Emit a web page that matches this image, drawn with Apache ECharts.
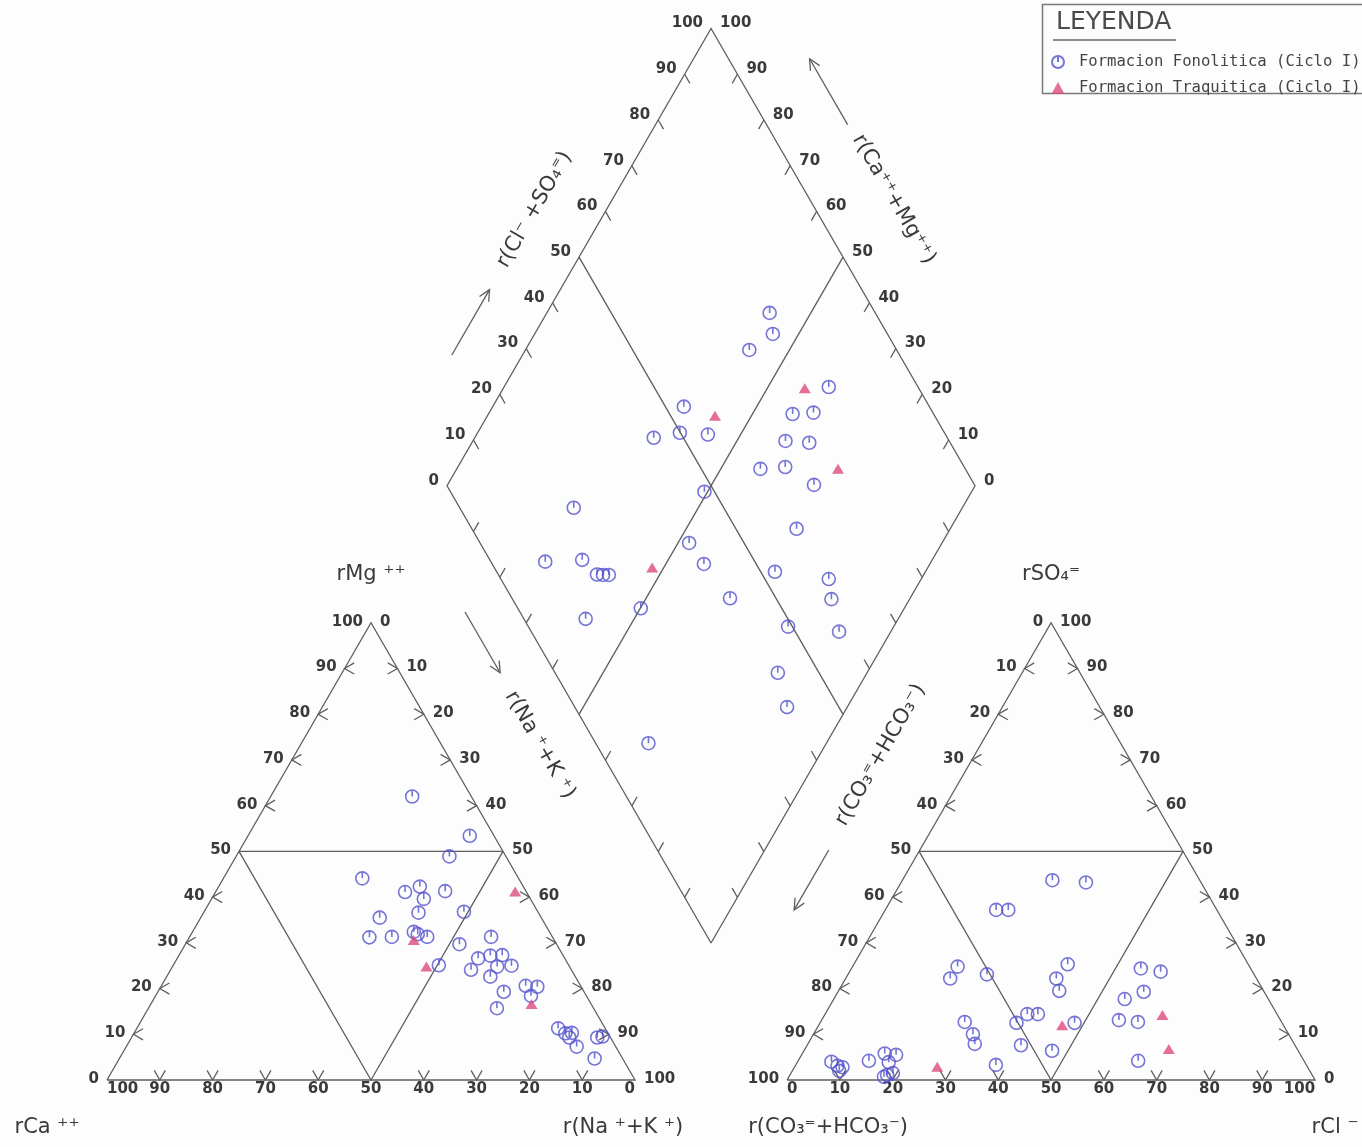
<!DOCTYPE html>
<html>
<head>
<meta charset="utf-8">
<title>Diagrama de Piper</title>
<script src="https://cdn.jsdelivr.net/npm/echarts@6/dist/echarts.min.js"></script>
<style>
  html, body { margin: 0; padding: 0; background: #fdfdfd; }
  #chart { width: 1362px; height: 1147px; }
</style>
</head>
<body>
<div id="chart"></div>
<script>
// ---- Scale values (percent of meq/l) ----
const scaleValues = [0, 10, 20, 30, 40, 50, 60, 70, 80, 90, 100];

// ---- Cation triangle: [rMg %, r(Na+K) %]  (rCa = 100 - both) ----
const cationFonolitica = [
  [62.0, 26.8], [53.4, 42.0], [48.9, 40.4], [44.1, 26.3], [41.1, 35.9], [42.3, 38.1],
  [39.6, 40.2], [41.3, 43.4], [36.8, 49.2], [36.6, 40.7], [35.5, 33.9], [31.2, 34.1],
  [31.3, 38.3], [32.4, 41.9], [31.9, 42.9], [31.3, 45.0], [29.7, 51.9], [25.1, 50.3],
  [31.3, 57.1], [26.6, 57.0], [27.2, 59.0], [27.3, 61.2], [24.1, 56.9], [24.8, 61.5],
  [25.0, 64.1], [22.6, 61.3], [19.3, 65.5], [15.7, 66.0], [20.6, 69.0], [20.4, 71.3],
  [18.4, 71.1], [11.3, 79.8], [10.2, 81.7], [10.3, 82.9], [9.3, 82.9], [7.3, 85.3],
  [9.3, 88.2], [9.5, 89.1], [4.7, 90.0]
];
const cationTraquitica = [[30.6, 42.8], [24.8, 48.1], [16.6, 72.1], [41.2, 56.7]];

// ---- Anion triangle: [rSO4 %, rCl %]  (r(CO3+HCO3) = 100 - both) ----
const anionFonolitica = [
  [43.7, 28.4], [43.2, 35.0], [37.2, 21.0], [37.2, 23.3], [24.8, 19.9], [22.2, 19.8],
  [23.1, 26.3], [25.3, 40.5], [22.2, 39.9], [19.5, 41.8], [24.4, 54.8], [23.7, 58.9],
  [17.7, 55.1], [19.3, 57.9], [13.1, 56.3], [12.7, 60.1], [4.2, 64.4], [14.4, 38.3],
  [14.4, 40.3], [12.5, 37.2], [12.5, 48.2], [7.6, 40.5], [6.4, 47.0], [12.7, 27.3],
  [10.0, 30.2], [7.9, 31.6], [3.3, 37.9], [4.0, 6.4], [3.1, 8.0], [2.8, 9.1],
  [2.0, 8.9], [4.2, 13.4], [5.8, 15.6], [5.5, 17.9], [3.9, 17.3], [1.1, 18.4],
  [1.5, 19.3], [0.7, 18.0]
];
const anionTraquitica = [[14.2, 64.0], [6.8, 68.9], [12.0, 46.1], [2.9, 27.0]];

// ---- Central diamond: [r(Ca+Mg) %, r(Cl+SO4) %] ----
const diamondFonolitica = [
  [57.8, 80.0], [54.9, 78.3], [57.6, 72.1], [38.5, 83.1], [42.4, 73.3], [38.6, 77.4],
  [40.8, 69.0], [36.1, 73.3], [42.5, 61.2], [38.0, 66.1], [30.6, 69.6], [63.8, 53.5],
  [66.1, 44.4], [61.7, 49.9], [56.2, 55.0], [50.6, 48.1], [73.6, 21.6], [29.1, 61.5],
  [47.9, 39.6], [73.1, 10.3], [66.3, 17.5], [61.9, 18.7], [60.7, 19.8], [59.6, 20.9],
  [42.8, 40.1], [28.5, 52.7], [17.5, 62.1], [14.8, 60.4], [34.1, 41.3], [49.9, 23.3],
  [59.2, 11.7], [20.0, 49.2], [9.8, 58.3], [16.9, 42.2], [11.4, 40.2], [33.7, 10.0]
];
const diamondTraquitica = [[42.9, 78.4], [27.8, 75.9], [56.9, 58.4], [52.2, 29.9]];

const seriesNames = ['Formacion Fonolitica (Ciclo I)', 'Formacion Traquitica (Ciclo I)'];

// ---- Layout of the Piper plot, in plot units (triangle side = 100) ----
const W = 1362, H = 1147;
const SCALE = 5.28;            // px per unit
const ORIGIN = [107, 1080];    // px position of the cation triangle's lower-left corner
const GAP = 28.8;              // gap between the two triangles
const LIFT = 1;                // small vertical shift of the diamond
const R3 = Math.sqrt(3) / 2;

function cationPt(mg, nak) { return [nak + mg / 2, mg * R3]; }
function anionPt(so4, cl) { return [100 + GAP + cl + so4 / 2, so4 * R3]; }
const DB = [100 + GAP / 2, (GAP / 2) * Math.sqrt(3) + LIFT];
function diamondPt(camg, clso4) {
  return [DB[0] + (clso4 - camg) / 2, DB[1] + (camg + clso4) * R3];
}

const LINE = '#5e5e5e', INK = '#3a3a3a', BLUE = '#5252cc', PINK = '#dc4a80';
const FONT = '"DejaVu Sans", "Liberation Sans", sans-serif';

const dir = deg => [Math.cos(deg * Math.PI / 180), Math.sin(deg * Math.PI / 180)];
const add = (a, d, k) => [a[0] + d[0] * k, a[1] + d[1] * k];
const lerp = (a, b, t) => [a[0] + (b[0] - a[0]) * t, a[1] + (b[1] - a[1]) * t];

function renderFrame(params, api) {
  const kids = [];
  const P = p => api.coord(p);
  const seg = (pts, w) => kids.push({
    type: 'polyline', silent: true,
    shape: { points: pts.map(P) },
    style: { stroke: LINE, lineWidth: w || 1.3, fill: 'none' }
  });
  const txt = (p, s, o) => {
    const c = P(p);
    kids.push({
      type: 'text', silent: true,
      x: c[0] + (o.dx || 0), y: c[1] + (o.dy || 0), rotation: o.rot || 0,
      style: {
        text: s, fill: INK, fontSize: o.size || 15, fontFamily: FONT,
        fontWeight: o.weight || 'normal',
        align: o.align || 'center', verticalAlign: o.va || 'middle'
      }
    });
  };
  const TL = 2.1;
  const inner = scaleValues.filter(v => v > 0 && v < 100 && v !== 50);
  const tickLbl = { size: 15, weight: 'bold' };

  // one ternary triangle; fn(apexShare, rightShare)
  function triangle(fn, leftLab, rightLab, bottomLab) {
    const BL = fn(0, 0), BR = fn(0, 100), AP = fn(100, 0);
    seg([BL, BR, AP, BL]);
    seg([fn(50, 0), fn(50, 50)]);
    seg([fn(50, 0), fn(0, 50), fn(50, 50)]);
    inner.forEach(v => {
      let p = fn(v, 0);   seg([add(p, dir(30), TL), p, add(p, dir(-30), TL)]);
      p = fn(v, 100 - v); seg([add(p, dir(150), TL), p, add(p, dir(210), TL)]);
      p = fn(0, v);       seg([add(p, dir(120), TL), p, add(p, dir(60), TL)]);
    });
    scaleValues.forEach(v => {
      txt(fn(v, 0), String(leftLab(v)), Object.assign({ align: 'right', dx: -8, dy: -1 }, tickLbl));
      txt(fn(v, 100 - v), String(rightLab(v)), Object.assign({ align: 'left', dx: 9, dy: -1 }, tickLbl));
      txt(fn(0, v), String(bottomLab(v)), Object.assign({
        align: v === 0 ? 'left' : (v === 100 ? 'right' : 'center'), va: 'top', dy: 2
      }, tickLbl));
    });
  }
  triangle(cationPt, v => v, v => 100 - v, v => 100 - v);
  triangle(anionPt, v => 100 - v, v => v, v => v);

  // diamond
  const B = diamondPt(0, 0), L = diamondPt(100, 0), T = diamondPt(100, 100), R = diamondPt(0, 100);
  seg([B, L, T, R, B]);
  seg([diamondPt(100, 50), diamondPt(0, 50)]);
  seg([diamondPt(50, 100), diamondPt(50, 0)]);
  inner.forEach(v => {
    let p = diamondPt(100, v); seg([p, add(p, dir(300), 2)]);
    p = diamondPt(v, 100);     seg([p, add(p, dir(240), 2)]);
    p = diamondPt(v, 0);       seg([p, add(p, dir(60), 2)]);
    p = diamondPt(0, v);       seg([p, add(p, dir(120), 2)]);
  });
  scaleValues.forEach(v => {
    txt(diamondPt(100, v), String(v), Object.assign({ align: 'right', dx: -8, dy: -5 }, tickLbl));
    txt(diamondPt(v, 100), String(v), Object.assign({ align: 'left', dx: 9, dy: -5 }, tickLbl));
  });

  // edge titles and arrows around the diamond
  const NTL = [-R3, 0.5], NTR = [R3, 0.5], NLL = [-R3, -0.5], NLR = [R3, -0.5];
  const off = (a, b, t, d, n) => add(lerp(a, b, t), n, d);
  function arrow(a, b, t0, t1, d, n) {
    const s = off(a, b, t0, d, n), e = off(a, b, t1, d, n);
    const len = Math.hypot(e[0] - s[0], e[1] - s[1]);
    const u = [(e[0] - s[0]) / len, (e[1] - s[1]) / len];
    const ang = 0.45, k = 2.3;
    const rot = (q, g) => [q[0] * Math.cos(g) - q[1] * Math.sin(g), q[0] * Math.sin(g) + q[1] * Math.cos(g)];
    seg([s, e]);
    seg([add(e, rot(u, ang), -k), e, add(e, rot(u, -ang), -k)]);
  }
  arrow(L, T, 0.219, 0.362, 11.6, NTL);
  arrow(R, T, 0.713, 0.857, 13.3, NTR);
  arrow(L, B, 0.224, 0.357, 9.0, NLL);
  arrow(R, B, 0.736, 0.867, 10.5, NLR);
  const big = 21;
  txt(off(L, T, 0.536, 11.8, NTL), 'r(Cl\u207B +SO\u2084\u207C)', { rot: Math.PI / 3, size: big });
  txt(off(R, T, 0.547, 13.8, NTR), 'r(Ca\u207A\u207A+Mg\u207A\u207A)', { rot: -Math.PI / 3, size: big });
  txt(off(L, B, 0.513, 9.3, NLL), 'r(Na \u207A+K \u207A)', { rot: -Math.PI / 3, size: big });
  txt(off(R, B, 0.531, 10.0, NLR), 'r(CO\u2083\u207C+HCO\u2083\u207B)', { rot: Math.PI / 3, size: big });

  // vertex titles of the triangles
  txt(cationPt(100, 0), 'rMg \u207A\u207A', { dy: -48, size: big });
  txt(cationPt(0, 0), 'rCa \u207A\u207A', { dx: -60, dy: 48, size: big });
  txt(cationPt(0, 100), 'r(Na \u207A+K \u207A)', { dx: -12, dy: 48, size: big });
  txt(anionPt(100, 0), 'rSO\u2084\u207C', { dy: -48, size: big });
  txt(anionPt(0, 0), 'r(CO\u2083\u207C+HCO\u2083\u207B)', { dx: 41, dy: 48, size: big });
  txt(anionPt(0, 100), 'rCl \u207B', { dx: 20, dy: 48, size: big });

  return { type: 'group', children: kids };
}

const fonoSymbol = 'path://M10,1A9,9,0,0,1,10,19A9,9,0,0,1,10,1Z M10,1.5L10,10';
const fonoStyle = { color: 'rgba(255,255,255,0)', borderColor: BLUE, borderWidth: 1.6 };
const traqStyle = { color: PINK };

function scatter(name, data, isFono) {
  return {
    type: 'scatter', name, data, z: 5,
    symbol: isFono ? fonoSymbol : 'triangle',
    symbolSize: isFono ? 13 : [12, 10],
    itemStyle: isFono ? fonoStyle : traqStyle,
    emphasis: { disabled: true }
  };
}

const chart = echarts.init(document.getElementById('chart'), null, { renderer: 'canvas' });
chart.setOption({
  animation: false,
  backgroundColor: '#fdfdfd',
  grid: { left: 0, top: 0, width: W, height: H, containLabel: false },
  xAxis: { type: 'value', min: -ORIGIN[0] / SCALE, max: (W - ORIGIN[0]) / SCALE, show: false },
  yAxis: { type: 'value', min: -(H - ORIGIN[1]) / SCALE, max: ORIGIN[1] / SCALE, show: false },
  legend: {
    data: seriesNames, orient: 'vertical', left: 1046, top: 49,
    itemWidth: 13, itemHeight: 12, itemGap: 10, selectedMode: false,
    formatter: name => ' ' + name,
    textStyle: { fontFamily: '"DejaVu Sans Mono", "Liberation Mono", monospace', fontSize: 15.6, color: '#444' }
  },
  graphic: [
    { type: 'rect', left: 1040, top: 2, shape: { width: 330, height: 89 },
      style: { fill: 'none', stroke: '#777', lineWidth: 1.5 }, silent: true },
    { type: 'text', left: 1056, top: 10,
      style: { text: 'LEYENDA', fontSize: 25, fontFamily: FONT, fill: '#4a4a4a' }, silent: true },
    { type: 'line', shape: { x1: 1053, y1: 40, x2: 1176, y2: 40 },
      style: { stroke: '#666', lineWidth: 1.5 }, silent: true }
  ],
  series: [
    { type: 'custom', name: 'frame', data: [[0, 0]], renderItem: renderFrame, clip: false, silent: true, z: 1 },
    scatter(seriesNames[0], diamondFonolitica.map(d => diamondPt(d[0], d[1])), true),
    scatter(seriesNames[0], cationFonolitica.map(d => cationPt(d[0], d[1])), true),
    scatter(seriesNames[0], anionFonolitica.map(d => anionPt(d[0], d[1])), true),
    scatter(seriesNames[1], diamondTraquitica.map(d => diamondPt(d[0], d[1])), false),
    scatter(seriesNames[1], cationTraquitica.map(d => cationPt(d[0], d[1])), false),
    scatter(seriesNames[1], anionTraquitica.map(d => anionPt(d[0], d[1])), false)
  ]
});
</script>
</body>
</html>
